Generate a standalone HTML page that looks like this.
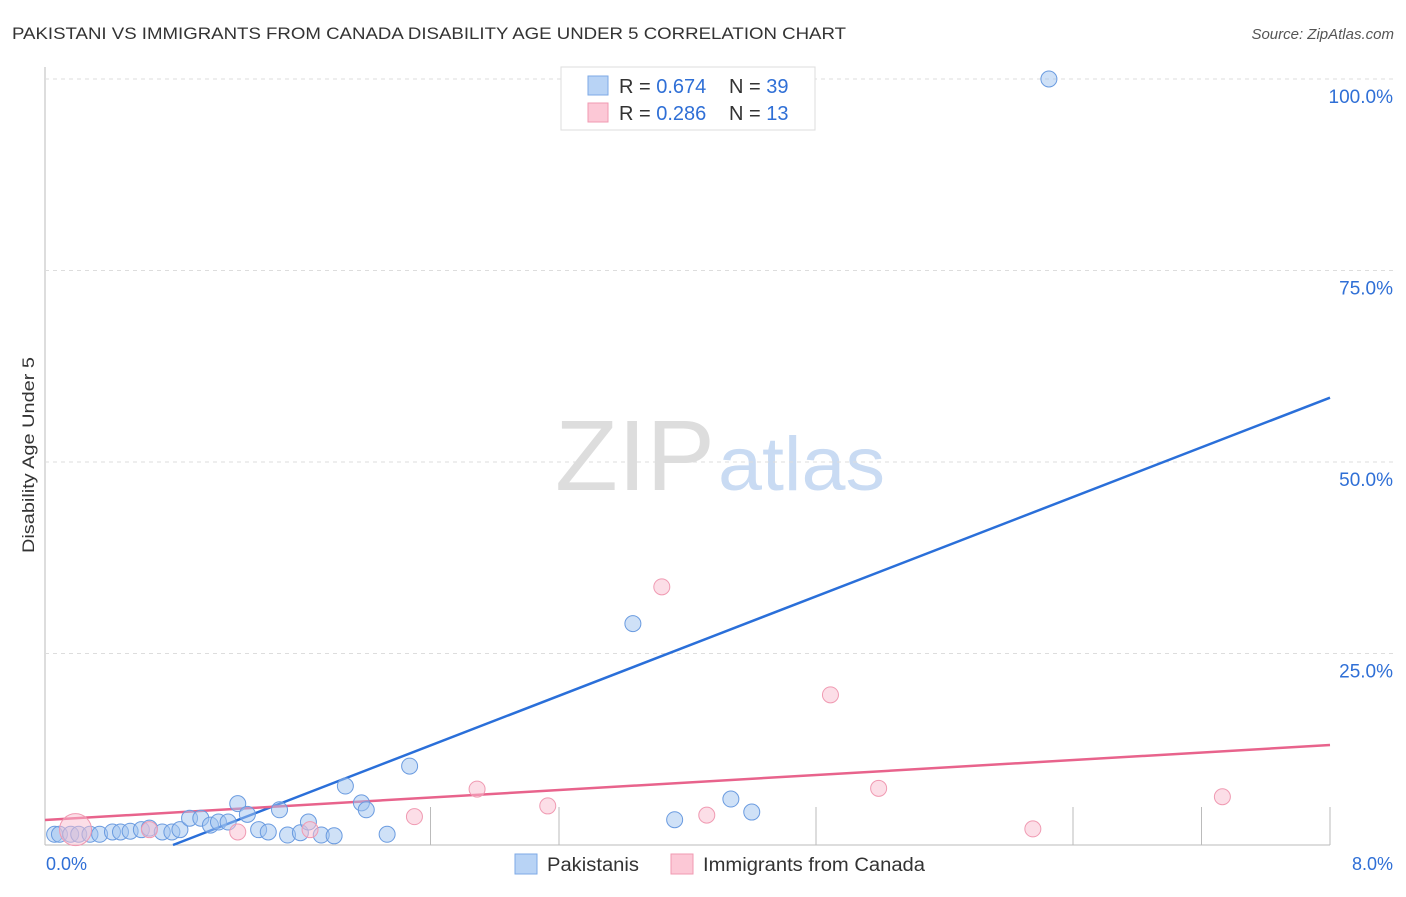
<!DOCTYPE html>
<html><head><meta charset="utf-8"><style>
body{margin:0;background:#fff;font-family:"Liberation Sans",sans-serif;}
svg text{font-family:"Liberation Sans",sans-serif;}
</style></head><body>
<svg id="chart" width="1406" height="892" viewBox="0 0 1406 892" xmlns="http://www.w3.org/2000/svg">
<text x="12" y="39" font-size="17" fill="#333" textLength="834" lengthAdjust="spacingAndGlyphs">PAKISTANI VS IMMIGRANTS FROM CANADA DISABILITY AGE UNDER 5 CORRELATION CHART</text>
<text x="1394" y="39" font-size="15" fill="#555" font-style="italic" text-anchor="end">Source: ZipAtlas.com</text>
<text x="555" y="490" font-size="100" fill="#ddd" textLength="160" lengthAdjust="spacingAndGlyphs" font-family="Liberation Serif">ZIP</text>
<text x="718" y="490" font-size="76" fill="#c9dbf3" textLength="167" lengthAdjust="spacingAndGlyphs">atlas</text>
<text transform="translate(34,455) rotate(-90)" font-size="17" fill="#333" text-anchor="middle" textLength="196" lengthAdjust="spacingAndGlyphs">Disability Age Under 5</text>
<g id="grid"></g>
<g id="lines"></g>
<g id="points"></g>
<g>
<rect x="561" y="67" width="254" height="63" fill="#fff" stroke="#ddd"/>
<rect x="588" y="76" width="20" height="19" fill="#b8d3f5" stroke="#7ea9e6"/>
<rect x="588" y="103" width="20" height="19" fill="#fcc8d6" stroke="#f09ab2"/>
<text x="619" y="93" font-size="20" fill="#333">R = <tspan fill="#2f6fd6">0.674</tspan></text>
<text x="729" y="93" font-size="20" fill="#333">N = <tspan fill="#2f6fd6">39</tspan></text>
<text x="619" y="120" font-size="20" fill="#333">R = <tspan fill="#2f6fd6">0.286</tspan></text>
<text x="729" y="120" font-size="20" fill="#333">N = <tspan fill="#2f6fd6"> 13</tspan></text>
</g>
<g>
<rect x="515" y="854" width="22" height="20" fill="#b8d3f5" stroke="#7ea9e6"/>
<text x="547" y="871" font-size="19" fill="#333" textLength="92" lengthAdjust="spacingAndGlyphs">Pakistanis</text>
<rect x="671" y="854" width="22" height="20" fill="#fcc8d6" stroke="#f09ab2"/>
<text x="703" y="871" font-size="19" fill="#333" textLength="222" lengthAdjust="spacingAndGlyphs">Immigrants from Canada</text>
</g>
<text x="46" y="870" font-size="18" fill="#2f6fd6">0.0%</text>
<text x="1393" y="870" font-size="18" fill="#2f6fd6" text-anchor="end">8.0%</text>
</svg>
<script>
const yTicks=[100,75,50,25];
const yTickLabels=["100.0%","75.0%","50.0%","25.0%"];
const xTickVals=[2.4,3.2,4.8,6.4,7.2,8];
const blueX=[0.06,0.09,0.16,0.21,0.28,0.34,0.42,0.47,0.53,0.60,0.65,0.73,0.79,0.84,0.90,0.97,1.03,1.08,1.14,1.20,1.26,1.33,1.39,1.46,1.51,1.59,1.64,1.72,1.80,1.87,1.97,2.00,2.13,2.27,3.66,3.92,4.27,4.40,6.25];
const blueY=[1.4,1.4,1.4,1.4,1.4,1.4,1.7,1.7,1.8,2.0,2.2,1.7,1.7,2.0,3.5,3.5,2.6,3.0,3.0,5.4,4.0,2.0,1.7,4.6,1.3,1.6,3.0,1.3,1.2,7.7,5.5,4.6,1.4,10.3,28.9,3.3,6.0,4.3,100];
const pinkX=[0.19,0.65,1.20,1.65,2.30,2.69,3.13,3.84,4.12,4.89,5.19,6.15,7.33];
const pinkY=[2.0,2.0,1.7,2.0,3.7,7.3,5.1,33.7,3.9,19.6,7.4,2.1,6.3];
const blueLine=[[0.797,0],[8,58.4]];
const pinkLine=[[0,3.26],[8,13.05]];
const NS="http://www.w3.org/2000/svg";
const xs=v=>45+v/8*1285, ys=v=>845-v*7.66;
function mk(t,a,p){const e=document.createElementNS(NS,t);for(const k in a)e.setAttribute(k,a[k]);p.appendChild(e);return e;}
const grid=document.getElementById('grid');
mk('line',{x1:45,y1:67,x2:45,y2:845,stroke:'#bbb'},grid);
mk('line',{x1:45,y1:845,x2:1330,y2:845,stroke:'#bbb'},grid);
yTicks.forEach((v,i)=>{
 const l=mk('line',{x1:45,y1:ys(v),x2:1395,y2:ys(v),stroke:'#ddd','stroke-dasharray':'4,4'},grid);
 
 
 const t=mk('text',{x:1393,y:ys(v)+24,'font-size':19,fill:'#2f6fd6','text-anchor':'end'},grid);
 t.textContent=yTickLabels[i];
 
 
});
xTickVals.forEach(v=>{
 const l=mk('line',{x1:xs(v),y1:807,x2:xs(v),y2:845,stroke:'#bbb'},grid);
 
 
});
const pts=document.getElementById('points');
blueX.forEach((v,i)=>{
 const c=mk('circle',{cx:xs(v),cy:ys(blueY[i]),r:8,fill:'rgba(160,196,240,0.5)',stroke:'#6a9be0','stroke-width':1},pts);
 
 
});
pinkX.forEach((v,i)=>{
 const c=mk('circle',{cx:xs(v),cy:ys(pinkY[i]),r:i==0?16:8,fill:'rgba(250,190,208,0.5)',stroke:'#f09ab2','stroke-width':1},pts);
 
 
});
const ln=document.getElementById('lines');
const bl=mk('line',{x1:xs(blueLine[0][0]),y1:ys(blueLine[0][1]),x2:xs(blueLine[1][0]),y2:ys(blueLine[1][1]),stroke:'#2a6fd9','stroke-width':2.5},ln);


const pl=mk('line',{x1:xs(pinkLine[0][0]),y1:ys(pinkLine[0][1]),x2:xs(pinkLine[1][0]),y2:ys(pinkLine[1][1]),stroke:'#e8638c','stroke-width':2.5},ln);


</script>
</body></html>
